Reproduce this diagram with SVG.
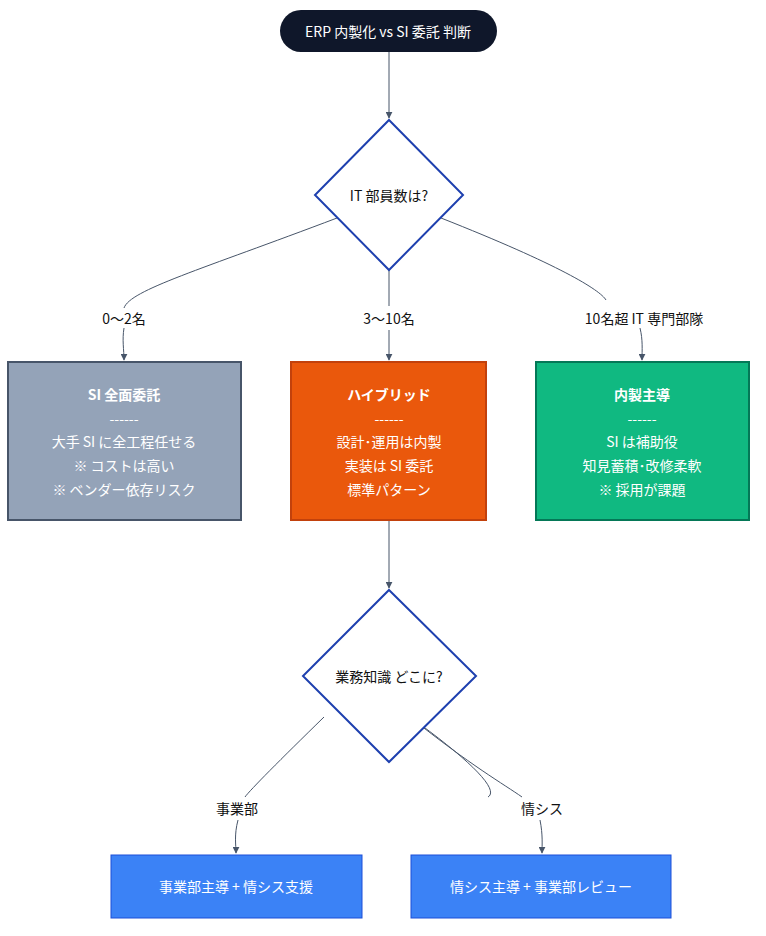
<svg xmlns="http://www.w3.org/2000/svg" width="766" height="936" viewBox="0 0 766 936">
<defs>
<marker id="ah" viewBox="0 0 10 10" refX="9" refY="5" markerWidth="7" markerHeight="7" orient="auto"><path d="M0,0L10,5L0,10z" fill="#475569"/></marker>
<style>
text{font-family:"Noto Sans CJK JP","Liberation Sans",sans-serif;font-size:14px;text-anchor:middle;dominant-baseline:central}
.e{fill:none;stroke:#475569;stroke-width:1}
.w{fill:#fff}
.b{font-weight:bold}
.dia{fill:#fff;stroke:#1e40af;stroke-width:2}
.lbl{fill:#111}
</style>
</defs>
<rect width="766" height="936" fill="#fff"/>
<g id="edges">
<path class="e" d="M389,52 L389,118" marker-end="url(#ah)"/>
<path class="e" d="M337,218 C200,270 130,290 124,308"/>
<path class="e" d="M124,328 C122,340 124,350 124,360" marker-end="url(#ah)"/>
<path class="e" d="M389,270 L389,306"/>
<path class="e" d="M389,330 L389,360" marker-end="url(#ah)"/>
<path class="e" d="M441,218 C560,265 600,290 606,300"/>
<path class="e" d="M640,328 C643,340 642,350 642,360" marker-end="url(#ah)"/>
<path class="e" d="M389,520 L389,588" marker-end="url(#ah)"/>
<path class="e" d="M324,717 C280,760 250,790 245,797"/>
<path class="e" d="M238,820 C234,835 236,845 236,853" marker-end="url(#ah)"/>
<path class="e" d="M410,717 C470,760 500,790 488,797"/>
<path class="e" d="M410,717 C470,765 505,785 522,797"/>
<path class="e" d="M540,820 C543,835 542,845 542,853" marker-end="url(#ah)"/>
</g>
<g id="edge-labels">
<rect x="96" y="308" width="56" height="20" fill="#fff"/><text x="124" y="318" class="lbl">0〜2名</text>
<rect x="356" y="308" width="66" height="20" fill="#fff"/><text x="389" y="318" class="lbl">3〜10名</text>
<rect x="574" y="308" width="140" height="20" fill="#fff"/><text x="644" y="318" class="lbl">10名超 IT 専門部隊</text>
<rect x="212" y="798" width="52" height="20" fill="#fff"/><text x="237" y="808" class="lbl">事業部</text>
<rect x="518" y="798" width="50" height="20" fill="#fff"/><text x="542" y="808" class="lbl">情シス</text>
</g>
<g id="start"><rect x="280" y="10" width="217" height="42" rx="21" fill="#0f172a"/><text x="388" y="31" class="w">ERP 内製化 vs SI 委託 判断</text></g>
<g id="q1"><polygon class="dia" points="389,120 463,195 389,270 315,195"/><text x="389" y="195" class="lbl">IT 部員数は?</text></g>
<g id="si"><rect x="8" y="362" width="233" height="158" fill="#94a3b8" stroke="#475569" stroke-width="2"/>
<text x="124" y="394" class="w b">SI 全面委託</text><text x="124" y="418" class="w">------</text><text x="124" y="441" class="w">大手 SI に全工程任せる</text><text x="124" y="465" class="w">※ コストは高い</text><text x="124" y="489" class="w">※ ベンダー依存リスク</text></g>
<g id="hy"><rect x="291" y="362" width="195" height="158" fill="#ea580c" stroke="#c2410c" stroke-width="2"/>
<text x="389" y="394" class="w b">ハイブリッド</text><text x="389" y="418" class="w">------</text><text x="389" y="441" class="w">設計･運用は内製</text><text x="389" y="465" class="w">実装は SI 委託</text><text x="389" y="489" class="w">標準パターン</text></g>
<g id="in"><rect x="536" y="362" width="213" height="158" fill="#10b981" stroke="#047857" stroke-width="2"/>
<text x="642" y="394" class="w b">内製主導</text><text x="642" y="418" class="w">------</text><text x="642" y="441" class="w">SI は補助役</text><text x="642" y="465" class="w">知見蓄積･改修柔軟</text><text x="642" y="489" class="w">※ 採用が課題</text></g>
<g id="q2"><polygon class="dia" points="389,590 476,676 389,762 303,676"/><text x="389" y="676" class="lbl">業務知識 どこに?</text></g>
<g id="b1"><rect x="111" y="855" width="251" height="63" fill="#3b82f6" stroke="#1d4ed8" stroke-width="1"/><text x="236" y="886" class="w">事業部主導 + 情シス支援</text></g>
<g id="b2"><rect x="411" y="855" width="260" height="63" fill="#3b82f6" stroke="#1d4ed8" stroke-width="1"/><text x="541" y="886" class="w">情シス主導 + 事業部レビュー</text></g>
</svg>
